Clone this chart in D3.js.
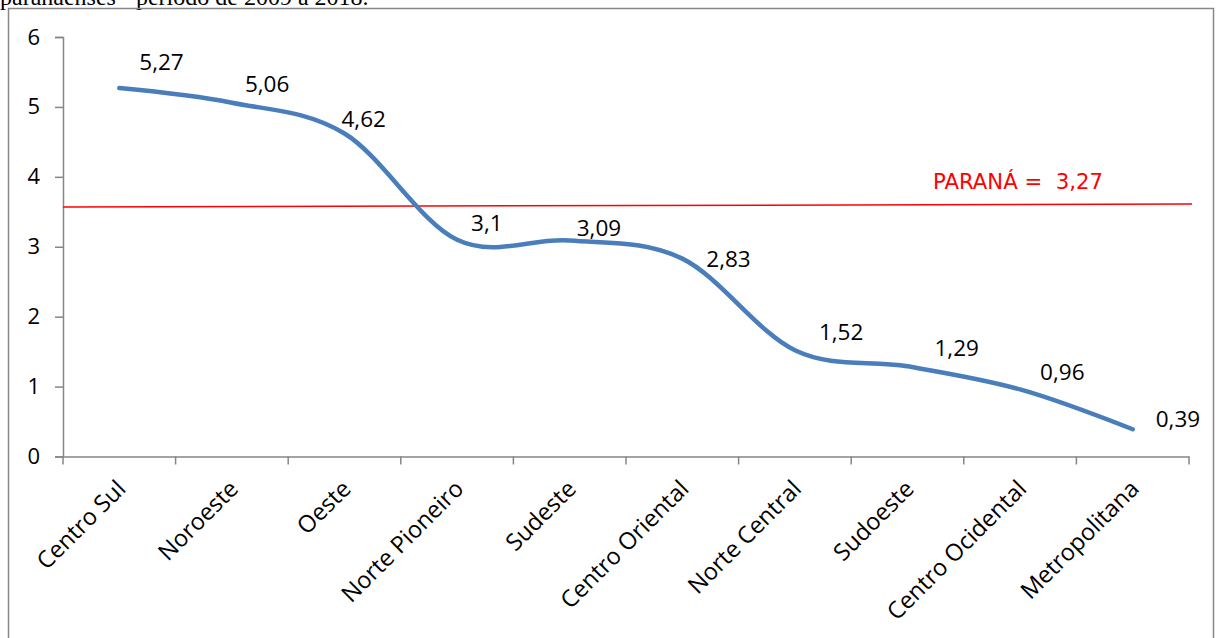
<!DOCTYPE html>
<html>
<head>
<meta charset="utf-8">
<script src="https://cdn.jsdelivr.net/npm/d3@7"></script>
<style>
  body { margin: 0; background: #fff; }
  svg { display: block; }
</style>
</head>
<body>
<svg id="chart" width="1219" height="638"></svg>
<script>
// regions and values
const regions = ["Centro Sul", "Noroeste", "Oeste", "Norte Pioneiro", "Sudeste",
  "Centro Oriental", "Norte Central", "Sudoeste", "Centro Ocidental", "Metropolitana"];
const values = [5.27, 5.06, 4.62, 3.1, 3.09, 2.83, 1.52, 1.29, 0.96, 0.39];
const valueLabels = ["5,27", "5,06", "4,62", "3,1", "3,09", "2,83", "1,52", "1,29", "0,96", "0,39"];
const yTicks = [0, 1, 2, 3, 4, 5, 6];
// state line as drawn (slightly tilted in the source)
const paranaLine = [3.57, 3.61];
const paranaLabel = "PARANÁ =  3,27";
const caption = "paranaenses - período de 2009 a 2018.";

// label nudges (px)
const labelNudge = [[20, -18], [13, -11], [-3, -6], [14, -9], [7, -4],
  [24, 8], [24, -10], [27, -10], [20, -9], [23, -2]];

const svg = d3.select("svg#chart");

//chart plot area
const plot = { left: 63, right: 1189, top: 37, bottom: 456.5 };

//frame and caption
svg.append("text")
  .attr("x", 0)
  .attr("y", 5)
  .attr("font-family", "Liberation Serif, Times New Roman, serif")
  .attr("font-size", 24)
  .attr("fill", "#000")
  .text(caption);

svg.append("rect")
  .attr("x", 8.5).attr("y", 8.5)
  .attr("width", 1205).attr("height", 640)
  .attr("fill", "none")
  .attr("stroke", "#878787")
  .attr("stroke-width", 1.5);

//scale functions
const xScale = d3.scaleBand()
  .domain(regions)
  .range([plot.left, plot.right]);

const yScale = d3.scaleLinear()
  .domain([0, 6])
  .range([plot.bottom, plot.top]);

const cx = d => xScale(d) + xScale.bandwidth() / 2;

//axes
const yAxis = svg.append("g")
  .attr("transform", `translate(${plot.left},0)`)
  .call(d3.axisLeft(yScale).tickValues(yTicks).tickSize(8).tickPadding(15).tickFormat(d3.format("d")));

const xAxis = svg.append("g")
  .attr("transform", `translate(0,${plot.bottom})`)
  .call(d3.axisBottom(xScale).tickSize(0).tickFormat(""));

// band-edge ticks
const edges = regions.map(r => xScale(r)).concat([plot.right]);
xAxis.selectAll("line.edge")
  .data(edges)
  .enter().append("line")
  .attr("class", "edge")
  .attr("x1", d => d).attr("x2", d => d)
  .attr("y1", 0).attr("y2", 8);

[yAxis, xAxis].forEach(g => {
  g.selectAll("path.domain").attr("stroke", "#868686").attr("stroke-width", 1.5);
  g.selectAll("line").attr("stroke", "#868686").attr("stroke-width", 1.5);
  g.selectAll("text")
    .attr("font-family", "Open Sans, sans-serif")
    .attr("font-size", 22)
    .attr("fill", "#000");
});

// category labels
svg.append("g")
  .selectAll("text")
  .data(regions)
  .enter().append("text")
  .attr("transform", d => `translate(${cx(d) - 4},${plot.bottom + 22}) rotate(-45)`)
  .attr("text-anchor", "end")
  .attr("dy", "0.71em")
  .attr("font-family", "Open Sans, sans-serif")
  .attr("font-size", 23.5)
  .attr("fill", "#000")
  .text(d => d);

// state average line
const refX = d3.scaleLinear().domain([0, 1]).range([plot.left, 1192]);
svg.append("line")
  .attr("x1", refX(0)).attr("x2", refX(1))
  .attr("y1", yScale(paranaLine[0])).attr("y2", yScale(paranaLine[1]))
  .attr("stroke", "#ff0000")
  .attr("stroke-width", 1.5);

svg.append("text")
  .attr("x", 933)
  .attr("y", 189)
  .attr("font-family", "DejaVu Sans, sans-serif")
  .attr("font-size", 21)
  .attr("textLength", 170)
  .attr("lengthAdjust", "spacingAndGlyphs")
  .attr("fill", "#ff0000")
  .style("white-space", "pre")
  .text(paranaLabel);

//line generator
const lineGenerator = d3.line()
  .x((d, i) => cx(regions[i]))
  .y(d => yScale(d))
  .curve(d3.curveCardinal.tension(0));

svg.append("path")
  .attr("d", lineGenerator(values))
  .attr("fill", "none")
  .attr("stroke", "#4a7ebb")
  .attr("stroke-width", 4.5)
  .attr("stroke-linecap", "round")
  .attr("stroke-linejoin", "round");

// data labels
svg.append("g")
  .selectAll("text")
  .data(values)
  .enter().append("text")
  .attr("x", (d, i) => cx(regions[i]) + labelNudge[i][0])
  .attr("y", (d, i) => yScale(d) + labelNudge[i][1])
  .attr("font-family", "Open Sans, sans-serif")
  .attr("font-size", 22.5)
  .attr("fill", "#000")
  .text((d, i) => valueLabels[i]);
</script>
</body>
</html>
